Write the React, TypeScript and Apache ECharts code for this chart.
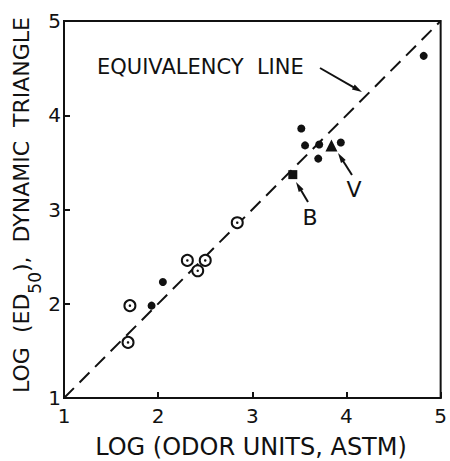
import React, { useEffect, useRef } from "react";
import * as echarts from "echarts";

// Axis ticks (log units)
const axisMin = 1;
const axisMax = 5;
const axisStep = 1;

// Open circles with a centre dot
const openCircles: number[][] = [
  [1.68, 1.59],
  [1.7, 1.98],
  [2.31, 2.46],
  [2.42, 2.35],
  [2.5, 2.46],
  [2.84, 2.86],
];

// Filled circles
const filledCircles: number[][] = [
  [1.93, 1.98],
  [2.05, 2.23],
  [3.52, 3.86],
  [3.56, 3.68],
  [3.71, 3.69],
  [3.7, 3.54],
  [3.94, 3.71],
  [4.82, 4.63],
];

// Labelled points
const pointB: number[][] = [[3.43, 3.37]];
const pointV: number[][] = [[3.84, 3.68]];

// Equivalency line y = x
const equivalencyLine: number[][] = [
  [1, 1],
  [5, 5],
];

const FONT = '"DejaVu Sans", "Liberation Sans", sans-serif';
const INK = "#111";

function arrow(x1: number, y1: number, x2: number, y2: number) {
  const dx = x2 - x1;
  const dy = y2 - y1;
  const len = Math.hypot(dx, dy);
  const ux = dx / len;
  const uy = dy / len;
  const hl = 10;
  const hw = 2.8;
  const bx = x2 - ux * hl;
  const by = y2 - uy * hl;
  return [
    {
      type: "line",
      shape: { x1, y1, x2: bx + ux * 2, y2: by + uy * 2 },
      style: { stroke: INK, lineWidth: 2 },
    },
    {
      type: "polygon",
      shape: {
        points: [
          [x2, y2],
          [bx - uy * hw, by + ux * hw],
          [bx + uy * hw, by - ux * hw],
        ],
      },
      style: { fill: INK },
    },
  ];
}

function text(
  str: string,
  x: number,
  y: number,
  size: number,
  align: string = "center",
  extra: any = {}
) {
  return {
    type: "text",
    x,
    y,
    ...extra,
    style: {
      text: str,
      fontSize: size,
      fontFamily: FONT,
      fill: INK,
      lineHeight: size,
      align,
      verticalAlign: "middle",
      textAlign: align,
      textVerticalAlign: "middle",
      ...(extra.style || {}),
    },
  };
}

export default function App() {
  const ref = useRef<HTMLDivElement>(null);

  useEffect(() => {
    if (!ref.current) return;
    const chart = echarts.init(ref.current, null, { renderer: "svg" });

    const axisCommon = {
      type: "value",
      min: axisMin,
      max: axisMax,
      interval: axisStep,
      axisLine: { show: true, lineStyle: { color: INK, width: 2 } },
      axisTick: { show: true, inside: true, length: 6, lineStyle: { color: INK, width: 2 } },
      splitLine: { show: false },
    };

    const option: any = {
      animation: false,
      backgroundColor: "#fff",
      grid: {
        left: 64,
        top: 21,
        width: 377,
        height: 377,
        show: true,
        borderColor: INK,
        borderWidth: 2,
        backgroundColor: "transparent",
      },
      xAxis: {
        ...axisCommon,
        axisLabel: { color: INK, fontSize: 20, fontFamily: FONT, margin: 8 },
      },
      yAxis: {
        ...axisCommon,
        axisLabel: { color: INK, fontSize: 20, fontFamily: FONT, margin: 3 },
      },
      series: [
        {
          type: "line",
          data: equivalencyLine,
          symbol: "none",
          lineStyle: { color: INK, width: 2, type: [14, 8] },
          z: 1,
        },
        {
          type: "scatter",
          data: openCircles,
          symbol: "circle",
          symbolSize: 11,
          itemStyle: { color: "#fff", borderColor: INK, borderWidth: 2, opacity: 1 },
          z: 3,
        },
        {
          type: "scatter",
          data: openCircles,
          symbol: "circle",
          symbolSize: 2.5,
          itemStyle: { color: INK, opacity: 1 },
          z: 4,
        },
        {
          type: "scatter",
          data: filledCircles,
          symbol: "circle",
          symbolSize: 8,
          itemStyle: { color: INK, opacity: 1 },
          z: 3,
        },
        {
          type: "scatter",
          data: pointB,
          symbol: "rect",
          symbolSize: 9,
          itemStyle: { color: INK, opacity: 1 },
          z: 3,
        },
        {
          type: "scatter",
          data: pointV,
          symbol: "triangle",
          symbolSize: 12,
          itemStyle: { color: INK, opacity: 1 },
          z: 3,
        },
      ],
      graphic: [
        text("LOG (ODOR UNITS, ASTM)", 251, 447, 24),
        {
          type: "text",
          x: 21,
          y: 205,
          rotation: Math.PI / 2,
          style: {
            text: "LOG  (ED{s|50}),  DYNAMIC  TRIANGLE",
            fontSize: 22,
            fontFamily: FONT,
            fill: INK,
            lineHeight: 44,
            align: "center",
            verticalAlign: "middle",
            textAlign: "center",
            textVerticalAlign: "middle",
            rich: {
              s: {
                fontSize: 17,
                fontFamily: FONT,
                fill: INK,
                lineHeight: 16,
                verticalAlign: "bottom",
              },
            },
          },
        },
        text("EQUIVALENCY  LINE", 97, 67, 21, "left"),
        text("B", 310, 217, 22),
        text("V", 354, 189, 22),
        ...arrow(320, 68, 362, 92),
        ...arrow(308, 202, 296, 182),
        ...arrow(352, 175, 338, 153),
      ],
    };

    chart.setOption(option);
    return () => chart.dispose();
  }, []);

  return (
    <div
      ref={ref}
      style={{ position: "fixed", left: 0, top: 0, width: 450, height: 461 }}
    />
  );
}
